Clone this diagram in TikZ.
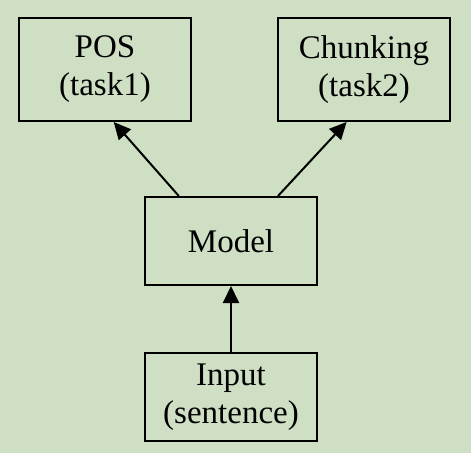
\documentclass[tikz,border=0pt]{standalone}
\usepackage{fontspec}
\setmainfont{Liberation Serif}
\usetikzlibrary{arrows.meta,calc}
\definecolor{bg}{RGB}{207,223,196}
\begin{document}
\begin{tikzpicture}[x=1pt,y=1pt,
  box/.style={draw=black,line width=2pt,minimum width=172pt,align=center,inner sep=0pt,
    font=\fontsize{33}{38}\selectfont},
  conn/.style={line width=2pt,-{Triangle[length=17pt,width=16pt]}}]
\fill[bg] (0,0) rectangle (471,-453);
\useasboundingbox (0,0) rectangle (471,-453);
\node[box,minimum height=103pt] (pos) at (105,-69.5) {POS\\(task1)};
\node[box,minimum height=103pt] (chunk) at (364,-69.5) {Chunking\\(task2)};
\node[box,minimum height=88pt] (model) at (231,-241) {Model};
\node[box,minimum height=88pt] (input) at (231,-397) {Input\\(sentence)};
\draw[conn] ($(model.north west)!0.2!(model.north east)$) -- ($(pos.south west)!0.55!(pos.south east)$);
\draw[conn] ($(model.north west)!0.77!(model.north east)$) -- ($(chunk.south west)!0.4!(chunk.south east)$);
\draw[conn] (input.north) -- (model.south);
\end{tikzpicture}
\end{document}
